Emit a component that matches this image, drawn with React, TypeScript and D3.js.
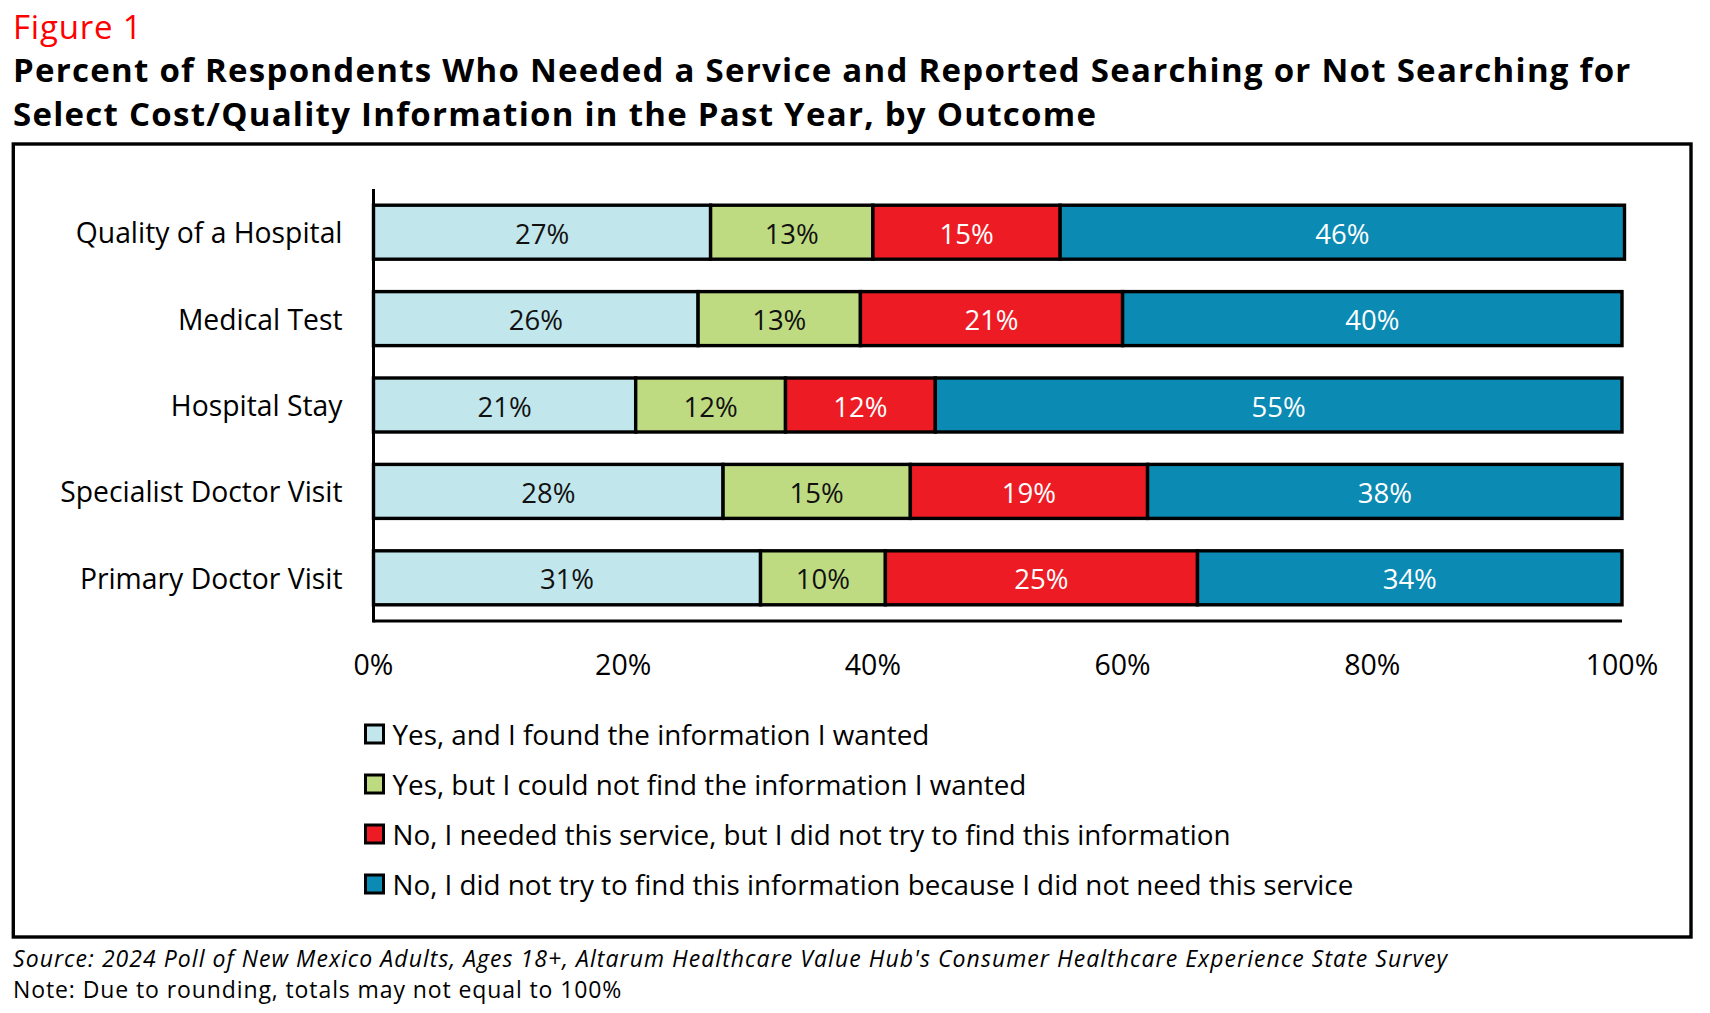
import React from "react";
import * as d3 from "d3";

const categories = [
  "Quality of a Hospital",
  "Medical Test",
  "Hospital Stay",
  "Specialist Doctor Visit",
  "Primary Doctor Visit",
];
const foundInfo = [27, 26, 21, 28, 31];
const couldNotFind = [13, 13, 12, 15, 10];
const didNotTry = [15, 21, 12, 19, 25];
const didNotNeed = [45.2, 40, 55, 38, 34];
const didNotNeedLabels = [46, 40, 55, 38, 34];

const seriesNames = [
  "Yes, and I found the information I wanted",
  "Yes, but I could not find the information I wanted",
  "No, I needed this service, but I did not try to find this information",
  "No, I did not try to find this information because I did not need this service",
];
const seriesColors = ["#C1E6EB", "#BFDB82", "#ED1C24", "#0B8AB3"];
const labelColors = ["#111", "#111", "#fff", "#fff"];
const tickValues = [0, 20, 40, 60, 80, 100];

const W = 1710;
const H = 1013;
const FONT = "'Open Sans', sans-serif";

export default function App() {
  const x = d3.scaleLinear().domain([0, 100]).range([373.5, 1622]);
  const y = d3
    .scaleBand<string>()
    .domain(categories)
    .range([189, 621])
    .paddingInner(0.375)
    .paddingOuter(0.1875);

  const rows = categories.map((c, i) => ({
    cat: c,
    s0: foundInfo[i],
    s1: couldNotFind[i],
    s2: didNotTry[i],
    s3: didNotNeed[i],
  }));
  const labelSets = [foundInfo, couldNotFind, didNotTry, didNotNeedLabels];
  const stack = d3.stack<any>().keys(["s0", "s1", "s2", "s3"]);
  const series = stack(rows);

  return (
    <svg
      width={W}
      height={H}
      style={{ position: "absolute", left: 0, top: 0, background: "#fff" }}
      fontFamily={FONT}
    >
      <rect x={0} y={0} width={W} height={H} fill="#fff" />
      <text x={13} y={39} fontSize={33} fill="#FF0000" fontWeight={500} letterSpacing={0.8}>
        Figure 1
      </text>
      <text x={13} y={81.5} fontSize={33} fontWeight={700} fill="#000" letterSpacing={1.27}>
        Percent of Respondents Who Needed a Service and Reported Searching or Not Searching for
      </text>
      <text x={13} y={125.5} fontSize={33} fontWeight={700} fill="#000" letterSpacing={1.27}>
        Select Cost/Quality Information in the Past Year, by Outcome
      </text>

      <rect x={13.3} y={144} width={1677.7} height={793} fill="none" stroke="#000" strokeWidth={3.4} />

      {series.map((s, si) =>
        s.map((d, di) => {
          const cat = categories[di];
          const x0 = x(d[0]);
          const x1 = x(d[1]);
          const yy = y(cat)!;
          return (
            <g key={`${si}-${di}`}>
              <rect
                x={x0}
                y={yy}
                width={x1 - x0}
                height={y.bandwidth()}
                fill={seriesColors[si]}
                stroke="#000"
                strokeWidth={3.4}
              />
              <text
                x={(x0 + x1) / 2}
                y={yy + y.bandwidth() / 2 + 1}
                textAnchor="middle"
                dominantBaseline="central"
                fontSize={27.5}
                fontWeight={500}
                fill={labelColors[si]}
              >
                {`${labelSets[si][di]}%`}
              </text>
            </g>
          );
        })
      )}

      {/* axes */}
      <line x1={x(0)} x2={x(0)} y1={189} y2={622.5} stroke="#000" strokeWidth={3} />
      <line x1={x(0)} x2={x(100)} y1={621} y2={621} stroke="#000" strokeWidth={3} />

      {categories.map((c) => (
        <text
          key={c}
          x={342.5}
          y={y(c)! + y.bandwidth() / 2}
          textAnchor="end"
          dominantBaseline="central"
          fontSize={28.3}
          fill="#000"
        >
          {c}
        </text>
      ))}

      {tickValues.map((t) => (
        <text key={t} x={x(t)} y={675} textAnchor="middle" fontSize={28.5} fill="#000">
          {`${t}%`}
        </text>
      ))}

      {seriesNames.map((n, i) => (
        <g key={n}>
          <rect
            x={365.5}
            y={725 + i * 50}
            width={18}
            height={18}
            fill={seriesColors[i]}
            stroke="#000"
            strokeWidth={3}
          />
          <text x={392.5} y={734 + i * 50} dominantBaseline="central" fontSize={27.8} fill="#000">
            {n}
          </text>
        </g>
      ))}

      <text x={13} y={967} fontSize={23} fontStyle="italic" fill="#000" letterSpacing={1.05}>
        Source: 2024 Poll of New Mexico Adults, Ages 18+, Altarum Healthcare Value Hub's Consumer Healthcare Experience State Survey
      </text>
      <text x={13} y={998} fontSize={23} fill="#000" letterSpacing={0.9}>
        Note: Due to rounding, totals may not equal to 100%
      </text>
    </svg>
  );
}
